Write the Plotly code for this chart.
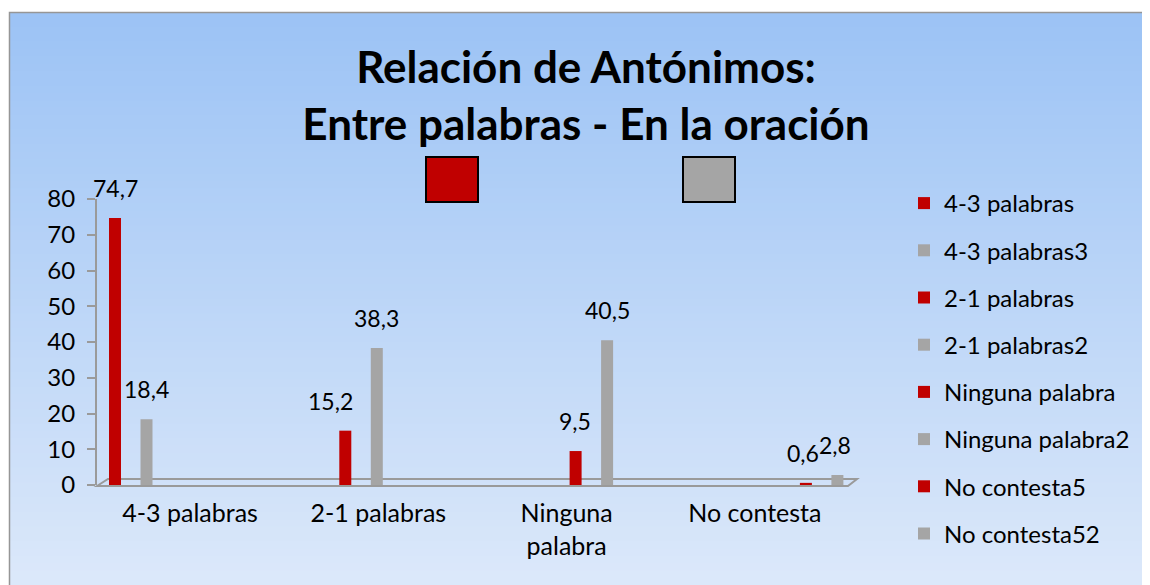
import plotly.graph_objects as go

# categorias del eje x
categorias = ["4-3 palabras", "2-1 palabras", "Ninguna palabra", "No contesta"]
etiquetas_x = ["4-3 palabras", "2-1 palabras", "Ninguna<br>palabra", "No contesta"]

# cada serie solo tiene valor en su categoria
series = ["4-3 palabras", "4-3 palabras3", "2-1 palabras", "2-1 palabras2",
          "Ninguna palabra", "Ninguna palabra2", "No contesta5", "No contesta52"]
cat_serie = [0, 0, 1, 1, 2, 2, 3, 3]
valores = [74.7, 18.4, 15.2, 38.3, 9.5, 40.5, 0.6, 2.8]

ROJO = "#C00000"
GRIS = "#A5A5A5"
colores = [ROJO, GRIS] * 4

FUENTE = "Lato, 'Noto Sans', sans-serif"

# la pagina tiene 8px de margen -> figura algo mas pequena
OFF = 8
W, H = 1142, 577
L, R, T, B = 89, 300, 191, 100
pw, ph = W - L - R, H - T - B
cat_px = pw / len(categorias)
ANCHO = 12 / cat_px  # ancho de barra en unidades de categoria


# coordenadas de pagina -> paper
def px(x):
    return (x - OFF - L) / pw


def py(y):
    return (H - B - (y - OFF)) / ph


# desplazamiento (px) de cada barra respecto al centro de su categoria,
# imitando la perspectiva del grafico 3D de Excel
def desplazamiento(i):
    c = cat_serie[i]
    centro_barra = 115 + 31.5 * (i % 2) + 230.3 * c
    centro_cat = OFF + L + (c + 0.5) * cat_px
    return centro_barra - centro_cat


fig = go.Figure()

for i, nombre in enumerate(series):
    ys = [None] * len(categorias)
    ys[cat_serie[i]] = valores[i]
    fig.add_trace(go.Bar(
        x=categorias, y=ys, name=nombre,
        width=ANCHO, offset=desplazamiento(i) / cat_px - ANCHO / 2,
        marker=dict(color=colores[i], line=dict(width=0)),
        legendgroup=nombre,
    ))

# etiquetas de datos (un poco por encima de la barra, como en Excel)
ajuste_x = [0, 0, -15, 0, -1, 0, -3, -2]
anotaciones = []
for i, v in enumerate(valores):
    anotaciones.append(dict(
        x=categorias[cat_serie[i]], y=v, xref="x", yref="y",
        text=str(v).replace(".", ","), showarrow=False,
        xshift=desplazamiento(i) + ajuste_x[i], yshift=14, yanchor="bottom",
        font=dict(size=23, color="black", family=FUENTE)))

# fondo degradado
shapes = []
n = 80
top, bot = (156, 195, 245), (221, 233, 250)
y0p, y1p = 12, 600
for k in range(n):
    t = k / (n - 1)
    c = tuple(int(round(top[j] + (bot[j] - top[j]) * t)) for j in range(3))
    ya = y0p + (y1p - y0p) * k / n
    yb = y0p + (y1p - y0p) * (k + 1) / n + 1
    shapes.append(dict(type="rect", xref="paper", yref="paper",
                       x0=px(9), x1=px(1170), y0=py(yb), y1=py(ya),
                       fillcolor="rgb(%d,%d,%d)" % c, line=dict(width=0),
                       layer="below"))
# borde
shapes.append(dict(type="path", xref="paper", yref="paper",
                   path="M %f,%f L %f,%f L %f,%f" % (px(9.5), py(600), px(9.5), py(12.5), px(1170), py(12.5)),
                   line=dict(color="#969696", width=1.5), layer="below"))
# suelo 3D
shapes.append(dict(type="path", xref="paper", yref="paper",
                   path="M %f,%f L %f,%f L %f,%f L %f,%f Z" % (
                       px(97), py(486), px(108), py(479), px(857), py(479), px(848), py(486)),
                   line=dict(color="#9a9a9a", width=2), fillcolor="rgba(0,0,0,0)",
                   layer="below"))
# cuadros bajo el titulo
shapes.append(dict(type="rect", xref="paper", yref="paper",
                   x0=px(426), x1=px(478), y0=py(202), y1=py(157),
                   fillcolor=ROJO, line=dict(color="black", width=2)))
shapes.append(dict(type="rect", xref="paper", yref="paper",
                   x0=px(683), x1=px(735), y0=py(202), y1=py(157),
                   fillcolor=GRIS, line=dict(color="black", width=2)))

fig.update_layout(
    width=W, height=H,
    margin=dict(l=L, r=R, t=T, b=B),
    paper_bgcolor="white",
    plot_bgcolor="rgba(0,0,0,0)",
    font=dict(family=FUENTE, size=24, color="black"),
    title=dict(text="<b>Relación de Antónimos:<br>Entre palabras - En la oración</b>",
               xref="container", x=(586 - OFF) / W, xanchor="center",
               y=1 - (83 - OFF) / H, yanchor="middle",
               font=dict(size=44, family=FUENTE, color="black")),
    barmode="overlay",
    showlegend=True,
    legend=dict(x=px(904), y=py(181), xanchor="left", yanchor="top",
                bgcolor="rgba(0,0,0,0)", font=dict(size=24, family=FUENTE),
                tracegroupgap=13, itemwidth=30, maxheight=560),
    shapes=shapes,
    annotations=anotaciones,
)

fig.update_xaxes(tickmode="array", tickvals=categorias, ticktext=etiquetas_x,
                 range=[-0.5, len(categorias) - 0.5], autorange=False,
                 showline=False, ticks="", ticklabelstandoff=11, ticklabelshift=-1,
                 tickfont=dict(size=25), showgrid=False)
fig.update_yaxes(range=[0, 80], autorange=False, dtick=10, showgrid=False, zeroline=False,
                 showline=True, linecolor="#9a9a9a", linewidth=2,
                 ticks="outside", ticklen=8, tickcolor="#9a9a9a", tickwidth=2,
                 ticklabelstandoff=7, tickfont=dict(size=24))

fig.write_html("out.html")
